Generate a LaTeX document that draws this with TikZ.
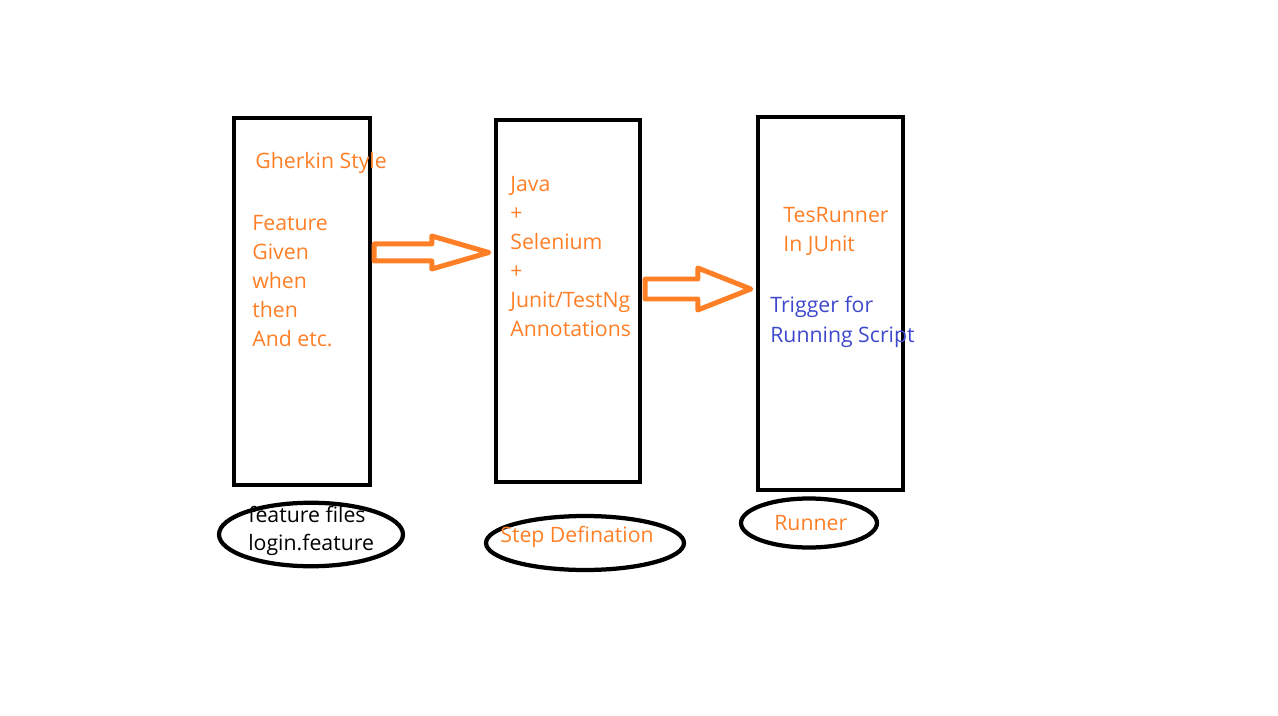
\documentclass[tikz,border=0pt]{standalone}
\usepackage{fontspec}
\setmainfont{Open Sans}
\usetikzlibrary{positioning,calc,shapes.geometric}
\definecolor{paintorange}{HTML}{FF7F27}
\definecolor{paintblue}{HTML}{3F48CC}
\tikzset{stage box/.style={rectangle,draw,line width=0.09cm,inner sep=0pt},
  tag oval/.style={ellipse,draw,line width=0.085cm,inner sep=0pt},
  note/.style={anchor=west,inner sep=0pt,align=left,text=paintorange,
    font=\fontsize{12.1}{16.6}\selectfont},
  flow arrow/.style={draw=paintorange,line width=0.1cm,line join=round},
}

\begin{document}
\begin{tikzpicture}[x=0.02cm,y=-0.02cm]
	\useasboundingbox (0,0) rectangle (1278,716);
	% the three stages
	\node[stage box,minimum width=2.72cm,minimum height=7.34cm] (feature) at (302,301.5) {};
	\node[stage box,minimum width=2.88cm,minimum height=7.24cm] (stepdef) at (568,301) {};
	\node[stage box,minimum width=2.90cm,minimum height=7.46cm] (testrun) at (830.5,303.5) {};
	
	% ovals under the stages
	\node[tag oval,minimum width=3.68cm,minimum height=1.27cm] (featureoval) at (311,534.5) {};
	\node[tag oval,minimum width=3.96cm,minimum height=1.08cm] (stepoval) at (585,543) {};
	\node[tag oval,minimum width=2.72cm,minimum height=0.98cm] (runoval) at (809,523) {};
	
	% texts
	\node[note] (style) at (255,163) {Gherkin Style};
	\node[note] (keywords) at (252,281) {Feature\\Given\\when\\then\\And etc.};
	\node[note] (stack) at (510,256.5) {Java\\+\\Selenium\\+\\Junit/TestNg\\Annotations};
	\node[note] (runclass) at (783,231) {TesRunner\\In JUnit};
	\node[note,text=paintblue] (trigger) at (770,322) {Trigger for\\Running Script};
	\node[note,text=black,font=\fontsize{12.1}{15.9}\selectfont] (files) at ($(featureoval)+(-63,-4)$) {feature files\\login.feature};
	\node[note] (stepname) at ($(stepoval)+(-85,-6.5)$) {Step Defination};
	\node[note] (runname) at ($(runoval)+(-35,0.5)$) {Runner};
	
	% block arrows between the stages
	\path (0,252.5) coordinate (lvl1) (0,289) coordinate (lvl2);
	\coordinate (s1) at ($(feature.east |- lvl1)+(2,0)$);
	\coordinate (t1) at ($(stepdef.west |- lvl1)+(-5,0)$);
	\coordinate (s2) at ($(stepdef.east |- lvl2)+(3,0)$);
	\coordinate (t2) at ($(testrun.west |- lvl2)+(-5,0)$);
	\draw[flow arrow] ($(s1)+(0,-8.5)$) -- ($(t1)+(-57,-8.5)$) -- ($(t1)+(-57,-16.5)$) -- (t1)
		-- ($(t1)+(-57,16.5)$) -- ($(t1)+(-57,8.5)$) -- ($(s1)+(0,8.5)$) -- cycle;
	\draw[flow arrow] ($(s2)+(0,-10)$) -- ($(t2)+(-53,-10)$) -- ($(t2)+(-53,-21)$) -- (t2)
		-- ($(t2)+(-53,21)$) -- ($(t2)+(-53,10)$) -- ($(s2)+(0,10)$) -- cycle;
	
\end{tikzpicture}
\end{document}
